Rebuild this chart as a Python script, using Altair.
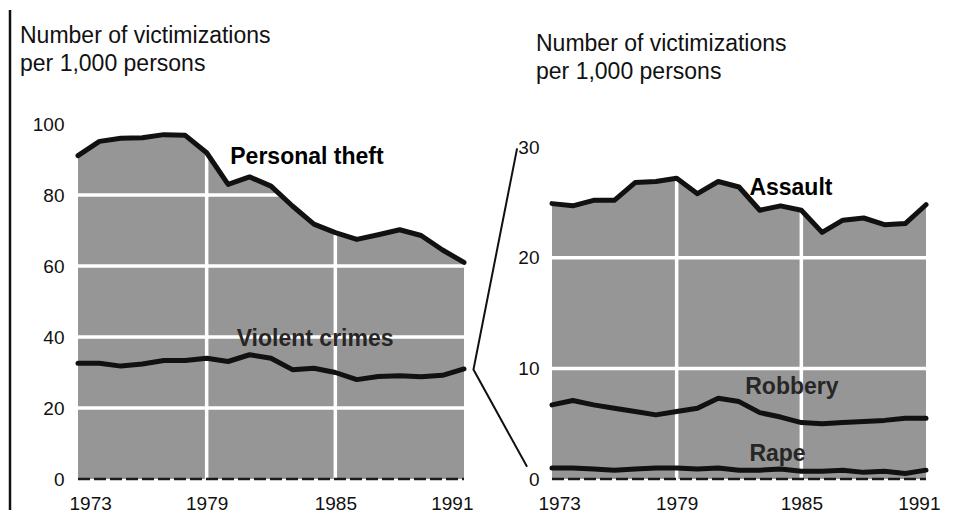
import altair as alt
import pandas as pd

# ---------------- data ----------------
years = list(range(1973, 1992))
personal_theft = [91.1, 95.1, 96.0, 96.1, 97.0, 96.8, 91.9, 83.0, 85.1, 82.5,
                  76.9, 71.8, 69.4, 67.5, 68.8, 70.2, 68.6, 64.5, 61.0]
violent_crimes = [32.6, 32.6, 31.8, 32.4, 33.4, 33.4, 34.0, 33.1, 35.0, 34.0,
                  30.8, 31.2, 30.0, 28.0, 28.9, 29.1, 28.8, 29.2, 31.0]
assault = [24.9, 24.7, 25.2, 25.2, 26.8, 26.9, 27.2, 25.8, 26.9, 26.4,
           24.3, 24.7, 24.3, 22.3, 23.4, 23.6, 23.0, 23.1, 24.8]
robbery = [6.7, 7.1, 6.7, 6.4, 6.1, 5.8, 6.1, 6.4, 7.3, 7.0,
           6.0, 5.6, 5.1, 5.0, 5.1, 5.2, 5.3, 5.5, 5.5]
rape = [1.0, 1.0, 0.9, 0.8, 0.9, 1.0, 1.0, 0.9, 1.0, 0.8,
        0.8, 0.9, 0.7, 0.7, 0.8, 0.6, 0.7, 0.5, 0.8]

x_ticks = [1973, 1979, 1985, 1991]
left_y_ticks = [0, 20, 40, 60, 80, 100]
right_y_ticks = [0, 10, 20, 30]
left_grid = [20, 40, 60, 80]
right_grid = [10, 20]
v_grid = [1979, 1985]

axis_title = ["Number of victimizations", "per 1,000 persons"]

left_labels_top = pd.DataFrame({"name": ["Personal theft"], "year": [1980.1], "value": [90.7]})
left_labels_in = pd.DataFrame({"name": ["Violent crimes"], "year": [1980.4], "value": [39.4]})
right_labels_top = pd.DataFrame({"name": ["Assault"], "year": [1982.5], "value": [26.3]})
right_labels_in = pd.DataFrame({"name": ["Robbery", "Rape"], "year": [1982.3, 1982.5], "value": [8.3, 2.3]})

# zoom connector (right-panel data coordinates): from left panel's violent-crime end to the 0-30 scale
connector = pd.DataFrame({"year": [1971.32, 1969.22, 1971.80], "value": [29.9, 9.9, 1.1], "order": [0, 1, 2]})

FILL = "#969696"
LINE = "#111111"
FONT = "Liberation Sans"

# ---------------- helpers ----------------
def xenc(flush_offset):
    ax = dict(values=x_ticks, format="d", title=None, labelPadding=15,
              labelFlush=True, labelFlushOffset=flush_offset)
    return alt.X("year:Q", scale=alt.Scale(domain=[1973, 1991], nice=False, zero=False),
                 axis=alt.Axis(**ax))


def yenc(field, ticks, dmax, pad):
    return alt.Y(f"{field}:Q", scale=alt.Scale(domain=[0, dmax], nice=False),
                 axis=alt.Axis(values=ticks, title=None, labelPadding=pad))


def panel(lines_df, top_series, grid_vals, yticks, dmax, ypad, flush_offset, labels_top, labels_in,
          title_dx, title_dy, w, extra=None):
    X = xenc(flush_offset)
    Y = yenc("value", yticks, dmax, ypad)
    top_df = lines_df[lines_df.series == top_series]
    area = alt.Chart(top_df).mark_area(color=FILL, opacity=1, line=False).encode(x=X, y=Y)
    hgrid = alt.Chart(pd.DataFrame({"value": grid_vals})).mark_rule(
        color="white", strokeWidth=3.5).encode(y=Y)
    vgrid = alt.Chart(pd.DataFrame({"year": v_grid})).mark_rule(
        color="white", strokeWidth=3.5).encode(x=X)
    base = alt.Chart(pd.DataFrame({"year": [1973], "year2": [1991], "value": [0]})).mark_rule(
        color="#1a1a1a", strokeWidth=2.5, strokeDash=[12, 4]).encode(x=X, x2="year2:Q", y=Y)
    lines = alt.Chart(lines_df).mark_line(color=LINE, strokeWidth=5, strokeJoin="round",
                                          strokeCap="round").encode(x=X, y=Y, detail="series:N")
    lt = alt.Chart(labels_top).mark_text(align="left", baseline="middle", font=FONT,
                                         fontSize=23, fontWeight="bold", color="#000000"
                                         ).encode(x=X, y=Y, text="name:N")
    li = alt.Chart(labels_in).mark_text(align="left", baseline="middle", font=FONT,
                                        fontSize=23, fontWeight="bold", color="#262626"
                                        ).encode(x=X, y=Y, text="name:N")
    title = alt.Chart(pd.DataFrame({"k": [0]})).mark_text(
        text=axis_title, align="left", baseline="alphabetic", font=FONT, fontSize=23,
        lineHeight=28, color="#111111").encode(x=alt.value(title_dx), y=alt.value(title_dy))
    layers = [area, hgrid, vgrid, base, lines, lt, li, title]
    if extra is not None:
        layers += extra
    return alt.layer(*layers).properties(width=w, height=355)


left_df = pd.DataFrame({
    "year": years * 2,
    "value": personal_theft + violent_crimes,
    "series": ["Personal theft"] * len(years) + ["Violent crimes"] * len(years),
})
right_df = pd.DataFrame({
    "year": years * 3,
    "value": assault + robbery + rape,
    "series": ["Assault"] * len(years) + ["Robbery"] * len(years) + ["Rape"] * len(years),
})

border = alt.Chart(pd.DataFrame({"k": [0]})).mark_rule(color="#111111", strokeWidth=2.5).encode(
    x=alt.value(-68), y=alt.value(-114), y2=alt.value(386))

left = panel(left_df, "Personal theft", left_grid, left_y_ticks, 100, 14, 9,
             left_labels_top, left_labels_in, -58, -81, 386, extra=[border])

conn = alt.Chart(connector).mark_line(color="#111111", strokeWidth=2).encode(
    x=xenc(14),
    y=yenc("value", right_y_ticks, 32.1, 13),
    order="order:Q")

right = panel(right_df, "Assault", right_grid, right_y_ticks, 32.1, 13, 14,
              right_labels_top, right_labels_in, -16, -73, 374, extra=[conn])

chart = alt.hconcat(left, right, spacing=-4).properties(
    padding={"left": 0, "top": 0, "right": 2, "bottom": 0},
    background="white",
).configure_view(stroke=None).configure_axis(
    domain=False, ticks=False, grid=False,
    labelFont=FONT, labelFontSize=19, labelColor="#111111",
)

chart.save("out.html", embed_options={"renderer": "svg", "actions": False})
